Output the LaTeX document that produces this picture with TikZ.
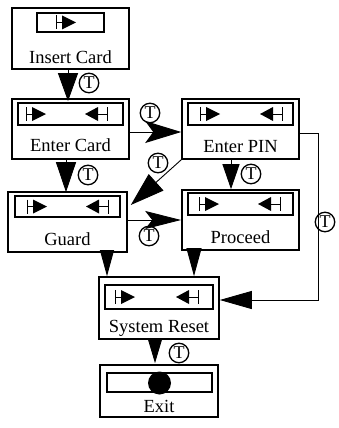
\documentclass[tikz,border=0pt]{standalone}
\usepackage{fontspec}
\setmainfont{Liberation Serif}
\usetikzlibrary{arrows.meta}

% entry / exit markers inside the state panels
\newcommand\entrymark[2]{%
  \draw[line width=0.8pt] (#1,#2-7) -- (#1,#2+7);
  \draw[line width=0.8pt] (#1,#2) -- (#1+6,#2);
  \fill (#1+6,#2-7) -- (#1+20,#2) -- (#1+6,#2+7) -- cycle;}
\newcommand\leavemark[2]{%
  \draw[line width=0.8pt] (#1,#2-7) -- (#1,#2+7);
  \draw[line width=0.8pt] (#1,#2) -- (#1-9,#2);
  \fill (#1-9,#2-7) -- (#1-22,#2) -- (#1-9,#2+7) -- cycle;}

\begin{document}
\begin{tikzpicture}[x=1pt,y=-1pt,
  statebox/.style={draw, line width=1.6pt, inner sep=0pt},
  panel/.style={draw, line width=1.5pt, inner sep=0pt},
  lbl/.style={inner sep=0pt, font=\fontsize{18.5}{20}\selectfont},
  conn/.style={line width=0.9pt},
  tmark/.style={circle, draw, line width=1.3pt, inner sep=0pt, minimum size=19.5pt,
                font=\fontsize{18}{18}\selectfont}]
\useasboundingbox (0,0) rectangle (338,428);

% states
\node[statebox, minimum width=117pt, minimum height=61pt] (insert) at (70.5,38.5) {};
\node[statebox, minimum width=117pt, minimum height=60pt] (entercard) at (70.5,129) {};
\node[statebox, minimum width=117pt, minimum height=60pt] (enterpin) at (240.5,129) {};
\node[statebox, minimum width=119pt, minimum height=60pt] (guard) at (67.5,222) {};
\node[statebox, minimum width=117pt, minimum height=60pt] (proceed) at (240.5,220) {};
\node[statebox, minimum width=120pt, minimum height=62pt] (reset) at (159,308) {};
\node[statebox, minimum width=118pt, minimum height=52pt] (exit) at (159,391) {};

% panels
\node[panel, minimum width=67pt, minimum height=19pt] (insertp) at (70.5,22.5) {};
\node[panel, minimum width=105pt, minimum height=22pt] (entercardp) at (70.5,114) {};
\node[panel, minimum width=105pt, minimum height=22pt] (enterpinp) at (240.5,114) {};
\node[panel, minimum width=105pt, minimum height=21pt] (guardp) at (67.5,206.5) {};
\node[panel, minimum width=105pt, minimum height=22pt] (proceedp) at (240.5,204) {};
\node[panel, minimum width=108pt, minimum height=24pt] (resetp) at (159,297) {};
\node[panel, minimum width=105pt, minimum height=19pt] (exitp) at (159.5,382.5) {};

% markers
\entrymark{56}{22.5}
\entrymark{26}{114}   \leavemark{107}{114}
\entrymark{200}{114}  \leavemark{282}{114}
\entrymark{27}{206.5} \leavemark{108}{206.5}
\entrymark{199}{204}  \leavemark{280}{204}
\entrymark{115}{297}  \leavemark{198}{297}
\node[circle, fill, inner sep=0pt, minimum size=23pt] (exitdot) at (159.5,383) {};

% labels
\node[lbl] (insertl) at (70.5,57) {Insert Card};
\node[lbl] (entercardl) at (70.5,145) {Enter Card};
\node[lbl] (enterpinl) at (240.5,147) {Enter PIN};
\node[lbl] (guardl) at (67.5,239) {Guard};
\node[lbl] (proceedl) at (240.5,237) {Proceed};
\node[lbl] (resetl) at (159,328) {System Reset};
\node[lbl] (exitl) at (159,406) {Exit};

% transitions
\draw[conn, -{Triangle[length=28pt,width=20pt]}]
  ([xshift=-2.5pt]insert.south) -- ([xshift=-2.5pt,yshift=-3pt]entercard.north);
\draw[conn, -{Triangle[length=30pt,width=20pt]}]
  ([xshift=-4.5pt]entercard.south) -- ([xshift=-1.5pt,yshift=-1pt]guard.north);
\draw[conn, -{Stealth[length=36pt,width=22pt,inset=8pt]}]
  ([yshift=-3pt]entercard.east) -- ([yshift=-3pt]enterpin.west);
\draw[conn, -{Triangle[length=34pt,width=22pt]}]
  (enterpin.south west) -- ([xshift=3pt,yshift=17pt]guard.east);
\draw[conn, -{Triangle[length=25pt,width=17pt]}]
  ([xshift=-9.5pt]enterpin.south) -- ([xshift=-9.5pt]proceed.north);
\draw[conn, -{Stealth[length=36pt,width=18pt,inset=7pt]}]
  ([yshift=2pt]guard.east) -- ([yshift=0pt]proceed.west);
\draw[conn, -{Triangle[length=26pt,width=14pt]}]
  ([xshift=39.5pt]guard.south) -- ([xshift=-52pt]reset.north);
\draw[conn, -{Triangle[length=28pt,width=15pt]}]
  ([xshift=-46.5pt]proceed.south) -- ([xshift=35pt]reset.north);
\coordinate (pinout) at ([yshift=-4pt]enterpin.east);
\coordinate (resetin) at ([yshift=8pt]reset.east);
\coordinate (railx) at (318,0);
\draw[conn, -{Triangle[length=32pt,width=18pt]}]
  (pinout) -- (pinout -| railx) -- (resetin -| railx) -- (resetin);
\draw[conn, -{Triangle[length=24pt,width=14pt]}]
  ([xshift=-4pt]reset.south) -- ([xshift=-4pt,yshift=1pt]exit.north);

% trigger marks
\node[tmark] (t1) at (89,83) {T};
\node[tmark] (t2) at (150,113) {T};
\node[tmark] (t3) at (158,163) {T};
\node[tmark] (t4) at (88,175) {T};
\node[tmark] (t5) at (251,174) {T};
\node[tmark] (t6) at (149,236) {T};
\node[tmark] (t7) at (325,222) {T};
\node[tmark] (t8) at (179,353) {T};
\end{tikzpicture}
\end{document}
